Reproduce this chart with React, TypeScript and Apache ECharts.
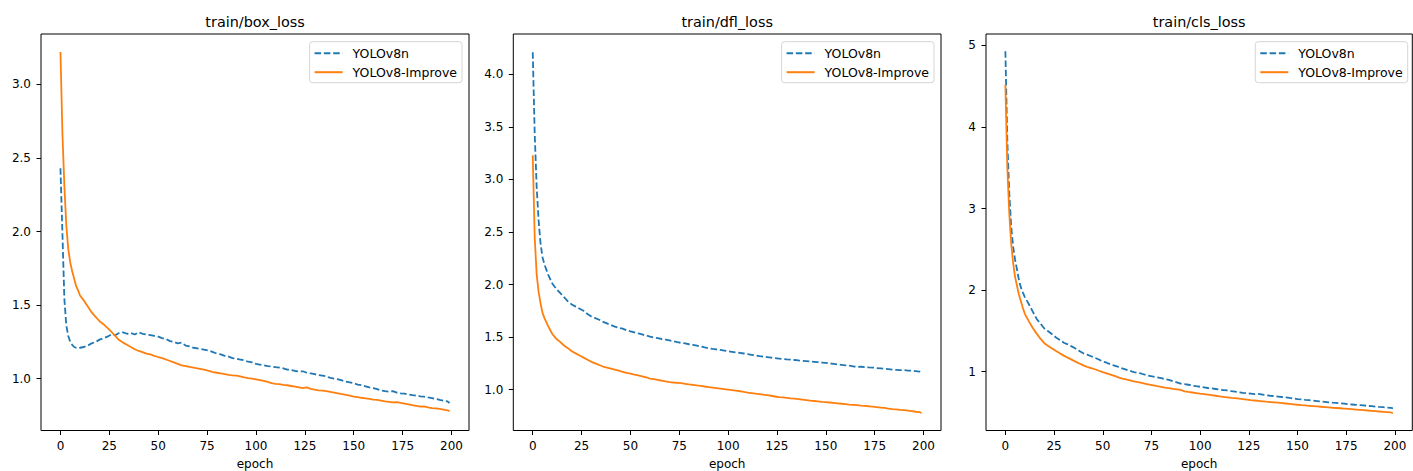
import React, { useEffect, useRef } from "react";
import * as echarts from "echarts";

const epochs = [0, 1, 2, 3, 4, 5, 6, 7, 8, 9, 10,
  12, 14, 16, 18, 20, 22, 24, 26, 28, 30, 32, 34, 36, 38, 40, 42, 44, 46, 48, 50,
  52, 54, 56, 58, 60, 62, 64, 66, 68, 70, 72, 74, 76, 78, 80, 82, 84, 86, 88, 90,
  92, 94, 96, 98, 100, 102, 104, 106, 108, 110, 112, 114, 116, 118, 120, 122, 124, 126, 128, 130,
  132, 134, 136, 138, 140, 142, 144, 146, 148, 150, 152, 154, 156, 158, 160, 162, 164, 166, 168, 170,
  172, 174, 176, 178, 180, 182, 184, 186, 188, 190, 192, 194, 196, 198, 199];

const boxBlue = [2.43, 1.99, 1.54, 1.36, 1.29, 1.25, 1.23, 1.215, 1.21, 1.208, 1.21,
  1.215, 1.225, 1.24, 1.25, 1.265, 1.275, 1.285, 1.30, 1.295, 1.31,
  1.315, 1.305, 1.31, 1.30, 1.315, 1.305, 1.30, 1.295, 1.29, 1.285,
  1.275, 1.27, 1.255, 1.25, 1.24, 1.245, 1.225, 1.22, 1.21, 1.205,
  1.20, 1.195, 1.19, 1.18, 1.17, 1.165, 1.155, 1.15, 1.14, 1.135,
  1.13, 1.125, 1.115, 1.11, 1.10, 1.095, 1.09, 1.085, 1.082, 1.078,
  1.075, 1.07, 1.062, 1.058, 1.052, 1.048, 1.05, 1.04, 1.035, 1.03,
  1.025, 1.02, 1.015, 1.005, 1.0, 0.995, 0.988, 0.98, 0.975, 0.968,
  0.96, 0.955, 0.948, 0.94, 0.935, 0.928, 0.92, 0.915, 0.912, 0.915,
  0.905, 0.90, 0.898, 0.892, 0.888, 0.885, 0.88, 0.878, 0.872, 0.868,
  0.862, 0.855, 0.85, 0.845, 0.835];

const boxOrange = [3.22, 2.67, 2.31, 2.04, 1.88, 1.79, 1.73, 1.68, 1.63, 1.60, 1.565,
  1.53, 1.49, 1.45, 1.42, 1.39, 1.37, 1.345, 1.32, 1.29, 1.262,
  1.245, 1.23, 1.215, 1.20, 1.188, 1.18, 1.17, 1.165, 1.155, 1.147,
  1.14, 1.13, 1.12, 1.11, 1.10, 1.09, 1.085, 1.08, 1.075, 1.07,
  1.065, 1.06, 1.052, 1.045, 1.04, 1.035, 1.03, 1.025, 1.022, 1.02,
  1.015, 1.008, 1.003, 1.0, 0.995, 0.99, 0.985, 0.978, 0.97, 0.965,
  0.962, 0.958, 0.955, 0.95, 0.945, 0.94, 0.935, 0.94, 0.93, 0.925,
  0.92, 0.918, 0.915, 0.91, 0.905, 0.90, 0.895, 0.89, 0.885, 0.878,
  0.875, 0.87, 0.866, 0.862, 0.858, 0.855, 0.85, 0.845, 0.842, 0.838,
  0.84, 0.835, 0.83, 0.825, 0.82, 0.815, 0.81, 0.812, 0.805, 0.80,
  0.798, 0.795, 0.79, 0.785, 0.778];

const dflBlue = [4.21, 3.44, 2.93, 2.61, 2.39, 2.26, 2.19, 2.14, 2.09, 2.05, 2.01,
  1.96, 1.92, 1.88, 1.84, 1.81, 1.79, 1.77, 1.75, 1.72, 1.695,
  1.68, 1.665, 1.645, 1.63, 1.615, 1.60, 1.59, 1.58, 1.565, 1.555,
  1.545, 1.535, 1.525, 1.515, 1.505, 1.497, 1.49, 1.482, 1.475, 1.468,
  1.46, 1.452, 1.445, 1.44, 1.432, 1.425, 1.418, 1.41, 1.402, 1.395,
  1.388, 1.383, 1.378, 1.372, 1.365, 1.36, 1.355, 1.35, 1.344, 1.338,
  1.332, 1.326, 1.32, 1.315, 1.31, 1.305, 1.30, 1.296, 1.292, 1.288,
  1.285, 1.282, 1.278, 1.275, 1.272, 1.268, 1.265, 1.262, 1.258, 1.254,
  1.25, 1.245, 1.24, 1.236, 1.232, 1.228, 1.222, 1.215, 1.218, 1.215,
  1.212, 1.21, 1.206, 1.202, 1.198, 1.195, 1.19, 1.188, 1.185, 1.186,
  1.182, 1.18, 1.176, 1.172, 1.168];

const dflOrange = [3.23, 2.45, 2.1, 1.93, 1.82, 1.73, 1.68, 1.64, 1.60, 1.565, 1.53,
  1.485, 1.455, 1.42, 1.395, 1.365, 1.345, 1.325, 1.305, 1.285, 1.265,
  1.25, 1.235, 1.22, 1.21, 1.20, 1.19, 1.18, 1.17, 1.16, 1.152,
  1.143, 1.135, 1.127, 1.118, 1.105, 1.10, 1.092, 1.085, 1.078, 1.072,
  1.068, 1.065, 1.062, 1.056, 1.05, 1.045, 1.04, 1.036, 1.03, 1.025,
  1.02, 1.015, 1.01, 1.005, 1.0, 0.995, 0.99, 0.985, 0.978, 0.972,
  0.968, 0.962, 0.958, 0.952, 0.948, 0.942, 0.935, 0.93, 0.926, 0.922,
  0.918, 0.915, 0.91, 0.905, 0.90, 0.895, 0.892, 0.888, 0.884, 0.882,
  0.878, 0.874, 0.87, 0.866, 0.862, 0.858, 0.855, 0.852, 0.848, 0.845,
  0.842, 0.838, 0.834, 0.83, 0.826, 0.82, 0.815, 0.812, 0.808, 0.805,
  0.80, 0.795, 0.79, 0.786, 0.778];

const clsBlue = [4.93, 3.84, 3.19, 2.78, 2.53, 2.37, 2.25, 2.12, 2.03, 1.97, 1.915,
  1.83, 1.74, 1.65, 1.59, 1.53, 1.495, 1.46, 1.42, 1.39, 1.355,
  1.335, 1.31, 1.285, 1.255, 1.225, 1.21, 1.19, 1.17, 1.15, 1.125,
  1.11, 1.09, 1.075, 1.06, 1.04, 1.025, 1.01, 0.995, 0.985, 0.975,
  0.96, 0.95, 0.94, 0.93, 0.92, 0.91, 0.90, 0.885, 0.87, 0.855,
  0.848, 0.84, 0.83, 0.822, 0.815, 0.808, 0.80, 0.795, 0.788, 0.78,
  0.775, 0.77, 0.762, 0.755, 0.748, 0.74, 0.735, 0.73, 0.725, 0.728,
  0.72, 0.712, 0.705, 0.70, 0.695, 0.69, 0.685, 0.678, 0.672, 0.665,
  0.66, 0.655, 0.652, 0.645, 0.64, 0.635, 0.63, 0.625, 0.62, 0.618,
  0.612, 0.608, 0.602, 0.598, 0.594, 0.59, 0.586, 0.58, 0.578, 0.572,
  0.568, 0.565, 0.56, 0.556, 0.55];

const clsOrange = [4.52, 3.51, 2.94, 2.57, 2.33, 2.16, 2.05, 1.94, 1.86, 1.78, 1.71,
  1.62, 1.54, 1.47, 1.405, 1.35, 1.315, 1.285, 1.255, 1.225, 1.197,
  1.172, 1.148, 1.124, 1.10, 1.078, 1.06, 1.045, 1.03, 1.012, 0.995,
  0.98, 0.965, 0.948, 0.93, 0.915, 0.905, 0.895, 0.882, 0.872, 0.862,
  0.852, 0.842, 0.832, 0.822, 0.815, 0.805, 0.798, 0.79, 0.784, 0.776,
  0.76, 0.752, 0.745, 0.738, 0.73, 0.724, 0.718, 0.712, 0.705, 0.698,
  0.692, 0.686, 0.68, 0.675, 0.67, 0.664, 0.658, 0.652, 0.647, 0.642,
  0.637, 0.632, 0.628, 0.624, 0.62, 0.615, 0.61, 0.605, 0.60, 0.595,
  0.59, 0.586, 0.582, 0.578, 0.574, 0.57, 0.566, 0.562, 0.558, 0.555,
  0.552, 0.548, 0.544, 0.54, 0.536, 0.532, 0.528, 0.524, 0.52, 0.516,
  0.512, 0.508, 0.504, 0.50, 0.49];

const xTicks = [0, 25, 50, 75, 100, 125, 150, 175, 200];
const boxTicks = [1.0, 1.5, 2.0, 2.5, 3.0];
const dflTicks = [1.0, 1.5, 2.0, 2.5, 3.0, 3.5, 4.0];
const clsTicks = [1, 2, 3, 4, 5];

const titles = ["train/box_loss", "train/dfl_loss", "train/cls_loss"];
const seriesNames = ["YOLOv8n", "YOLOv8-Improve"];

const FONT = "'DejaVu Sans', sans-serif";
const BLUE = "#1f77b4";
const ORANGE = "#ff7f0e";

export default function App() {
  const ref = useRef<HTMLDivElement>(null);
  useEffect(() => {
    if (!ref.current) return;
    const chart = echarts.init(ref.current, undefined, { renderer: "svg" });

    const panels = [
      { left: 41, width: 428, yMin: 0.6475, yMax: 3.3425, ticks: boxTicks, dec: 1, blue: boxBlue, orange: boxOrange, legendRight: 951 },
      { left: 513.3, width: 427.7, yMin: 0.6115, yMax: 4.3835, ticks: dflTicks, dec: 1, blue: dflBlue, orange: dflOrange, legendRight: 479 },
      { left: 986, width: 426.3, yMin: 0.279, yMax: 5.141, ticks: clsTicks, dec: 0, blue: clsBlue, orange: clsOrange, legendRight: 5.3 },
    ];
    const top = 34;
    const height = 396.5;

    const pairs = (ys: number[]) => epochs.map((e, i) => [e, ys[i]]);

    const option: any = {
      animation: false,
      backgroundColor: "#ffffff",
      textStyle: { fontFamily: FONT },
      grid: panels.map((p) => ({
        left: p.left,
        top,
        width: p.width,
        height,
        show: true,
        borderColor: "#000",
        borderWidth: 1,
        backgroundColor: "transparent",
        containLabel: false,
        outerBoundsMode: "none",
      })),
      xAxis: panels.map((p, i) => ({
        type: "value",
        gridIndex: i,
        min: -9.95,
        max: 208.95,
        position: "bottom",
        name: "epoch",
        nameLocation: "middle",
        nameGap: 27,
        nameTextStyle: { fontSize: 12, color: "#000", fontFamily: FONT },
        axisLine: { show: false, onZero: false },
        axisTick: { show: true, length: 4.5, inside: false, customValues: xTicks, lineStyle: { color: "#000", width: 1 } },
        axisLabel: { show: true, customValues: xTicks, margin: 9, fontSize: 12, color: "#000", fontFamily: FONT },
        splitLine: { show: false },
      })),
      yAxis: panels.map((p, i) => ({
        type: "value",
        gridIndex: i,
        min: p.yMin,
        max: p.yMax,
        position: "left",
        axisLine: { show: false, onZero: false },
        axisTick: { show: true, length: 4.5, inside: false, customValues: p.ticks, lineStyle: { color: "#000", width: 1 } },
        axisLabel: {
          show: true,
          customValues: p.ticks,
          margin: 10,
          fontSize: 12,
          color: "#000",
          fontFamily: FONT,
          formatter: (v: number) => v.toFixed(p.dec),
        },
        splitLine: { show: false },
      })),
      legend: panels.map((p) => ({
        data: seriesNames,
        orient: "vertical",
        right: p.legendRight,
        top: 41.7,
        padding: [5, 5, 4, 4],
        itemGap: 6,
        itemWidth: 28,
        itemHeight: 14,
        backgroundColor: "rgba(255,255,255,0.8)",
        borderColor: "#d6d6d6",
        borderWidth: 1,
        borderRadius: 3,
        selectedMode: false,
        itemStyle: { opacity: 0 },
        textStyle: { fontSize: 12.5, color: "#000", fontFamily: FONT, padding: [0, 0, 0, 5] },
      })),
      graphic: panels.map((p, i) => ({
        type: "text",
        x: p.left + p.width / 2,
        y: 21.5,
        style: {
          text: titles[i],
          textAlign: "center",
          textVerticalAlign: "middle",
          fontSize: 14.4,
          fontFamily: FONT,
          fill: "#000",
        },
      })),
      series: panels.flatMap((p, i) => [
        {
          name: seriesNames[0],
          type: "line",
          xAxisIndex: i,
          yAxisIndex: i,
          data: pairs(p.blue),
          showSymbol: false,
          symbol: "none",
          lineStyle: { color: BLUE, width: 1.8, type: [6.5, 2.8] },
          itemStyle: { color: BLUE },
          z: 2,
        },
        {
          name: seriesNames[1],
          type: "line",
          xAxisIndex: i,
          yAxisIndex: i,
          data: pairs(p.orange),
          showSymbol: false,
          symbol: "none",
          lineStyle: { color: ORANGE, width: 1.8, type: "solid" },
          itemStyle: { color: ORANGE },
          z: 3,
        },
      ]),
    };
    chart.setOption(option);
    return () => chart.dispose();
  }, []);

  return (
    <div
      ref={ref}
      style={{ position: "absolute", left: 0, top: 0, width: 1413, height: 471, background: "#fff" }}
    />
  );
}
